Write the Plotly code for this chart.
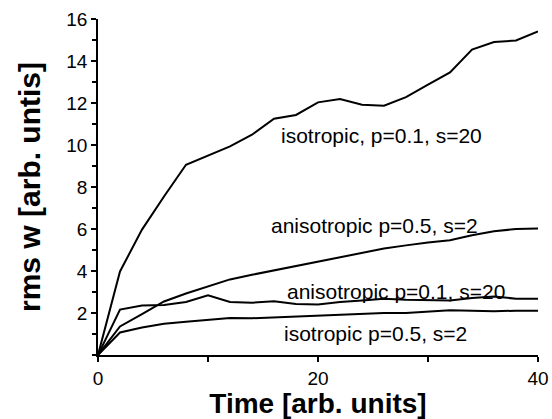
import plotly.graph_objects as go

time = [0, 2, 4, 6, 8, 10, 12, 14, 16, 18, 20, 22, 24, 26, 28, 30, 32, 34, 36, 38, 40]

iso_p01_s20 = [0, 3.98, 5.97, 7.55, 9.06, 9.49, 9.93, 10.49, 11.25, 11.43, 12.03, 12.19,
               11.92, 11.87, 12.28, 12.87, 13.46, 14.54, 14.90, 14.98, 15.41]
aniso_p05_s2 = [0, 1.36, 1.95, 2.55, 2.93, 3.27, 3.60, 3.82, 4.03, 4.25, 4.46, 4.67,
                4.86, 5.07, 5.22, 5.36, 5.46, 5.70, 5.89, 6.00, 6.02]
aniso_p01_s20 = [0, 2.16, 2.36, 2.38, 2.52, 2.84, 2.52, 2.49, 2.56, 2.43, 2.40, 2.52,
                 2.59, 2.68, 2.63, 2.63, 2.60, 2.71, 2.79, 2.68, 2.68]
iso_p05_s2 = [0, 1.07, 1.31, 1.49, 1.58, 1.66, 1.76, 1.75, 1.79, 1.84, 1.89, 1.92,
              1.97, 2.00, 2.00, 2.05, 2.13, 2.11, 2.08, 2.11, 2.11]

labels = ["isotropic, p=0.1, s=20", "anisotropic p=0.5, s=2",
          "anisotropic p=0.1, s=20", "isotropic p=0.5, s=2"]
label_x = [25.8, 25.1, 27.05, 25.2]
label_y = [10.43, 6.16, 3.03, 1.01]

y_ticks = [2, 4, 6, 8, 10, 12, 14, 16]
x_ticks = [0, 20, 40]

FONT = "Liberation Sans, Arial, Helvetica, sans-serif"

fig = go.Figure()
for series in [iso_p01_s20, aniso_p05_s2, aniso_p01_s20, iso_p05_s2]:
    fig.add_trace(go.Scatter(x=time, y=series, mode="lines",
                             line=dict(color="black", width=2), showlegend=False,
                             hoverinfo="skip", cliponaxis=False))

for txt, lx, ly in zip(labels, label_x, label_y):
    fig.add_annotation(x=lx, y=ly, text=txt, showarrow=False,
                       xanchor="center", yanchor="middle",
                       font=dict(family=FONT, size=21, color="black"))

fig.update_layout(
    width=552, height=419, autosize=False,
    margin=dict(l=98, r=14, t=19, b=64),
    paper_bgcolor="white", plot_bgcolor="white",
    font=dict(family=FONT, color="black"),
)
fig.update_xaxes(
    range=[0, 40], tickmode="array", tickvals=x_ticks, ticktext=[str(v) for v in x_ticks],
    ticks="outside", ticklen=5, tickwidth=1.5, tickcolor="black",
    minor=dict(dtick=10, tick0=0, ticks="outside", ticklen=5, tickwidth=1.5, tickcolor="black"),
    showline=True, linecolor="black", linewidth=1.5, showgrid=False, zeroline=False,
    automargin=False,
    tickfont=dict(family=FONT, size=19, color="black"),
    title=dict(text="<b>Time [arb. units]</b>", font=dict(family=FONT, size=28, color="black"),
               standoff=2),
)
fig.update_yaxes(
    range=[0, 16], tickmode="array", tickvals=y_ticks, ticktext=[str(v) for v in y_ticks],
    ticks="outside", ticklen=5, tickwidth=1.5, tickcolor="black",
    minor=dict(dtick=1, tick0=0, ticks="outside", ticklen=4, tickwidth=1.5, tickcolor="black"),
    showline=True, linecolor="black", linewidth=1.5, showgrid=False, zeroline=False,
    automargin=False,
    tickfont=dict(family=FONT, size=19, color="black"),
    title=dict(text="<b>rms w [arb. untis]</b>", font=dict(family=FONT, size=30, color="black"),
               standoff=17),
)

fig.write_html("out.html")
